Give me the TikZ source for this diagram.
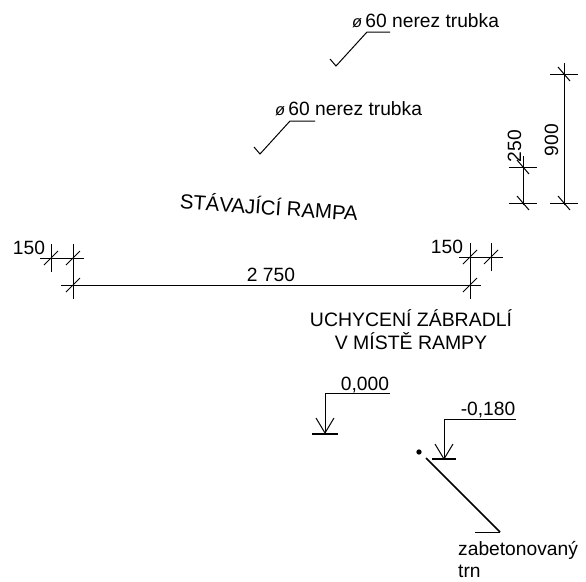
\documentclass[tikz,border=0pt]{standalone}
\usepackage{fontspec}
\setmainfont{Liberation Sans}
\tikzset{
	x=0.03cm,
	y=-0.03cm,
	line/.style={draw, line width=0.85pt},
	heavy/.style={draw, line width=1.3pt},
	label/.style={inner sep=0pt, font=\fontsize{16.4}{20}\selectfont},
	note/.style={label, align=center, font=\fontsize{16.6}{19.5}\selectfont}
}
\newcommand{\pipetext}{{\fontsize{14}{14}\selectfont\itshape ø}\,60 nerez trubka}
\begin{document}
\begin{tikzpicture}
	\useasboundingbox (0,0) rectangle (586,581);
	% leaders
	\coordinate (tubeAa) at (390,32);
	\coordinate (tubeAb) at (367,32);
	\coordinate (tubeAc) at (336,66);
	\coordinate (tubeAd) at (330,59);
	\coordinate (tubeBa) at (315,121);
	\coordinate (tubeBb) at (290,121);
	\coordinate (tubeBc) at (260,154);
	\coordinate (tubeBd) at (254,147);
	\node[label, anchor=base west] (tubeA) at (352,27) {\pipetext};
	\node[label, anchor=base west] (tubeB) at (275,115) {\pipetext};
	\draw[line] (tubeAa) -- (tubeAb) -- (tubeAc) -- (tubeAd);
	\draw[line] (tubeBa) -- (tubeBb) -- (tubeBc) -- (tubeBd);
	% dimensions
	\coordinate (hiTop) at (564,74);
	\coordinate (hiBot) at (564,203);
	\coordinate (loTop) at (523,167);
	\coordinate (loBot) at (523,203);
	\coordinate (lfA) at (51,258);
	\coordinate (lfB) at (73,258);
	\coordinate (rtA) at (470,257);
	\coordinate (rtB) at (491,257);
	\coordinate (spanA) at (73,285);
	\coordinate (spanB) at (470,285);
	\draw[line] (hiTop) -- (hiBot);
	\draw[line] (loTop) -- (loBot);
	\draw[line] ([xshift=-9]lfA) -- ([xshift=9]lfB);
	\draw[line] ([xshift=-9]rtA) -- ([xshift=10]rtB);
	\draw[line] ([xshift=-10]spanA) -- ([xshift=9]spanB);
	\foreach \mark in {hiTop, hiBot, loTop, loBot} {
		\draw[line] ([xshift=-12]\mark) -- ([xshift=12]\mark);
		\draw[line] ([shift={(-6,-7)}]\mark) -- ([shift={(6,7)}]\mark);
		\draw[line] ([yshift=-2]\mark) -- ([yshift=9]\mark);
	}
	\foreach \mark in {lfA, lfB, rtA, rtB, spanA, spanB} {
		\draw[line] ([yshift=-12]\mark) -- ([yshift=12]\mark);
		\draw[line] ([shift={(-7,7)}]\mark) -- ([shift={(7,-7)}]\mark);
	}
	\node[label, rotate=90, anchor=base] (dimHi) at (558,140) {900};
	\node[label, rotate=90, anchor=base] (dimLo) at (521,146) {250};
	\node[label, anchor=base] (dimLf) at (29,254) {150};
	\node[label, anchor=base] (dimRt) at (447,253) {150};
	\node[label, anchor=base] (dimSpan) at (271,281) {2 750};
	% captions
	\node[label, rotate=-4, font=\fontsize{17.4}{20}\selectfont] (rampa) at (269,206) {STÁVAJÍCÍ RAMPA};
	\node[note] (uchyceni) at (411,330) {UCHYCENÍ ZÁBRADLÍ\\V MÍSTĚ RAMPY};
	% levels
	\coordinate (zeroA) at (390,393);
	\coordinate (zeroB) at (325,393);
	\coordinate (zeroC) at (325,433);
	\coordinate (zeroL) at (316,418);
	\coordinate (zeroR) at (334,418);
	\coordinate (zeroS) at (312,434);
	\coordinate (zeroT) at (338,434);
	\coordinate (lowA) at (516,419);
	\coordinate (lowB) at (444,419);
	\coordinate (lowC) at (444,459);
	\coordinate (lowL) at (435,444);
	\coordinate (lowR) at (453,444);
	\coordinate (lowS) at (432,459);
	\coordinate (lowT) at (456,459);
	\node[label, anchor=base] (zero) at (365,390) {0,000};
	\node[label, anchor=base] (low) at (488,415) {-0,180};
	\draw[line] (zeroA) -- (zeroB) -- (zeroC);
	\draw[line] (zeroL) -- (zeroC) -- (zeroR);
	\draw[heavy] (zeroS) -- (zeroT);
	\draw[line] (lowA) -- (lowB) -- (lowC);
	\draw[line] (lowL) -- (lowC) -- (lowR);
	\draw[heavy] (lowS) -- (lowT);
	% anchor bar
	\coordinate (barA) at (426,458);
	\coordinate (barB) at (500,532);
	\coordinate (barC) at (475,532);
	\node[circle, fill, inner sep=0pt, minimum size=4.5pt] (dot) at (419,452) {};
	\draw[heavy] (barA) -- (barB);
	\draw[line] (barB) -- (barC);
	\node[label, anchor=base west] (zab) at (458,555) {zabetonovaný};
	\node[label, anchor=base west] (trn) at (458,577) {trn};
\end{tikzpicture}
\end{document}
